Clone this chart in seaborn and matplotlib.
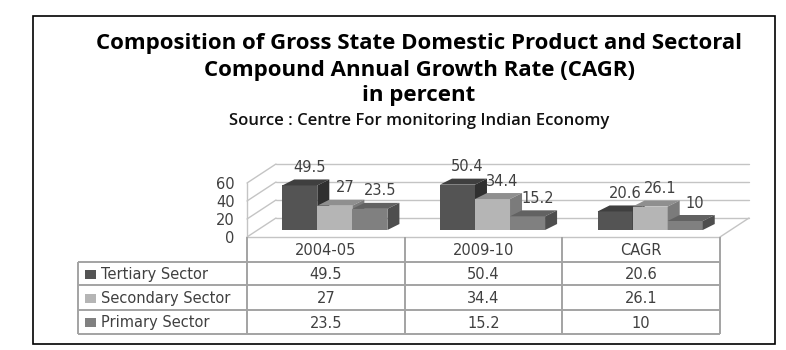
import numpy as np
import pandas as pd
import matplotlib
matplotlib.use("Agg")
import matplotlib.pyplot as plt
import seaborn as sns
from matplotlib.patches import Polygon, Rectangle
from matplotlib.lines import Line2D
from matplotlib.transforms import IdentityTransform, ScaledTranslation

# ---- data ----
periods = ["2004-05", "2009-10", "CAGR"]
sectors = ["Tertiary Sector", "Secondary Sector", "Primary Sector"]
tertiary = [49.5, 50.4, 20.6]
secondary = [27, 34.4, 26.1]
primary = [23.5, 15.2, 10]
yticks = [0, 20, 40, 60]
title_lines = ["Composition of Gross State Domestic Product and Sectoral",
               "Compound Annual Growth Rate (CAGR)",
               "in percent"]
source_line = "Source : Centre For monitoring Indian Economy"

sns.set_theme(style="white")
plt.rcParams["font.family"] = ["DejaVu Sans"]

W, H = 786, 350
fig = plt.figure(figsize=(W / 100, H / 100), dpi=100)
fig.patch.set_facecolor("white")

def fx(x):
    return x / W

def fy(y):
    return 1 - y / H

front = ["#545454", "#b5b5b5", "#808080"]
topc = ["#3f3f3f", "#8f8f8f", "#626262"]
sidec = ["#303030", "#7b7b7b", "#4e4e4e"]
txtc = "#404040"
gridc = "#c4c4c4"
tabc = "#a3a3a3"

ax = fig.add_axes([fx(247), fy(237), (720 - 247) / W, 54 / H])
ax.patch.set_visible(False)
df = pd.DataFrame({
    "period": periods * 3,
    "sector": np.repeat(sectors, 3),
    "value": tertiary + secondary + primary,
})
sns.barplot(data=df, x="period", y="value", hue="sector", order=periods,
            hue_order=sectors, palette=front, width=0.667, saturation=1,
            errorbar=None, legend=False, linewidth=0, ax=ax)
ax.set_xlim(-0.5, 2.5)
ax.set_ylim(0, 60)
ax.set_yticks(yticks)
ax.set_yticklabels([str(v) for v in yticks])
ax.set_xticks([])
ax.set_xlabel("")
ax.set_ylabel("")
for s in ax.spines.values():
    s.set_visible(False)
ax.tick_params(axis="y", length=0, pad=9, labelsize=10.5, labelcolor=txtc)

to = ax.transData.transform
ID = IdentityTransform()
FDX, FDY = 9, 7      # bar front face shift (px)
DDX, DDY = 12, 6     # bar depth (px)
BDX, BDY = 29, 19    # floor depth (px)

# walls & floor
for v in yticks:
    fl = to((-0.5, v))
    bl = fl + np.array([BDX, BDY])
    br = to((2.5, v)) + np.array([BDX, BDY])
    ax.add_line(Line2D([fl[0], bl[0]], [fl[1], bl[1]], color=gridc, lw=1,
                       transform=ID, clip_on=False, zorder=1))
    ax.add_line(Line2D([bl[0], br[0]], [bl[1], br[1]], color=gridc, lw=1,
                       transform=ID, clip_on=False, zorder=1))
p0 = to((-0.5, 0)); p1 = to((-0.5, 60))
ax.add_line(Line2D([p0[0], p1[0]], [p0[1], p1[1]], color=gridc, lw=1,
                   transform=ID, clip_on=False, zorder=1))
r0 = to((2.5, 0))
ax.add_line(Line2D([r0[0], r0[0] + BDX], [r0[1], r0[1] + BDY], color=gridc, lw=1,
                   transform=ID, clip_on=False, zorder=1))

# bars with pseudo-3D faces
bars = list(ax.patches)
info = []
for k, p in enumerate(bars):
    info.append((p.get_x(), k // 3, p))
info.sort(key=lambda t: t[0])
shift = ScaledTranslation(FDX / 100, FDY / 100, fig.dpi_scale_trans)
for rank, (xx, si, p) in enumerate(info):
    z = 3 + 0.1 * rank
    x, w, h = p.get_x(), p.get_width(), p.get_height()
    a = to((x, 0)) + np.array([FDX, FDY])
    b = to((x + w, h)) + np.array([FDX, FDY])
    p.set_transform(ax.transData + shift)
    p.set_clip_on(False)
    p.set_zorder(z)
    topf = [(a[0], b[1]), (b[0], b[1]), (b[0] + DDX, b[1] + DDY), (a[0] + DDX, b[1] + DDY)]
    sidef = [(b[0], a[1]), (b[0], b[1]), (b[0] + DDX, b[1] + DDY), (b[0] + DDX, a[1] + DDY)]
    ax.add_patch(Polygon(topf, closed=True, facecolor=topc[si], edgecolor="none",
                         transform=ID, clip_on=False, zorder=z))
    ax.add_patch(Polygon(sidef, closed=True, facecolor=sidec[si], edgecolor="none",
                         transform=ID, clip_on=False, zorder=z))
    ax.annotate(f"{h:g}", xy=(x + w / 2, h), xytext=(19 * 0.72, 25 * 0.72),
                textcoords="offset points", ha="center", va="center",
                fontsize=10.5, color=txtc, zorder=10, annotation_clip=False)

# overlay for frame, titles, table
ov = fig.add_axes([0, 0, 1, 1])
ov.set_xlim(0, W)
ov.set_ylim(H, 0)
ov.axis("off")
ov.add_patch(Rectangle((33, 16), 742, 328, fill=False, edgecolor="black", lw=1.2))

tfont = dict(family=["Open Sans", "DejaVu Sans"], weight="bold", color="black")
for txt, yb in zip(title_lines, [49, 76, 101]):
    ov.text(419, yb, txt, ha="center", va="baseline", fontsize=16, **tfont)
ov.text(419, 125, source_line, ha="center", va="baseline", fontsize=12,
        family=["Open Sans", "DejaVu Sans"], weight="semibold", color="#111111")

# table
xb = [to((v, 0))[0] for v in (-0.5, 0.5, 1.5, 2.5)]
ytop = H - to((-0.5, 0))[1]
rows_y = [ytop, 262, 285, 310, 334]
lkw = dict(color=tabc, lw=1.4, solid_capstyle="butt")
ov.plot([xb[0], xb[-1]], [ytop, ytop], color=gridc, lw=1)
for xv in xb:
    ov.plot([xv, xv], [ytop, rows_y[-1]], **lkw)
for yv in rows_y[1:]:
    ov.plot([78, xb[-1]], [yv, yv], **lkw)
ov.plot([78, 78], [rows_y[1], rows_y[-1]], **lkw)

cfont = dict(fontsize=10.5, color=txtc)
for j, per in enumerate(periods):
    ov.text((xb[j] + xb[j + 1]) / 2, (rows_y[0] + rows_y[1]) / 2 + 1, per,
            ha="center", va="center", **cfont)
series = [tertiary, secondary, primary]
for i, (name, vals) in enumerate(zip(sectors, series)):
    yc = (rows_y[i + 1] + rows_y[i + 2]) / 2 + 1
    ov.add_patch(Rectangle((85, yc - 5), 11, 9, facecolor=front[i], edgecolor="none"))
    ov.text(101, yc, name, ha="left", va="center", **cfont)
    for j, v in enumerate(vals):
        ov.text((xb[j] + xb[j + 1]) / 2, yc, f"{v:g}", ha="center", va="center", **cfont)

fig.savefig("out.png", dpi=100, facecolor="white")
